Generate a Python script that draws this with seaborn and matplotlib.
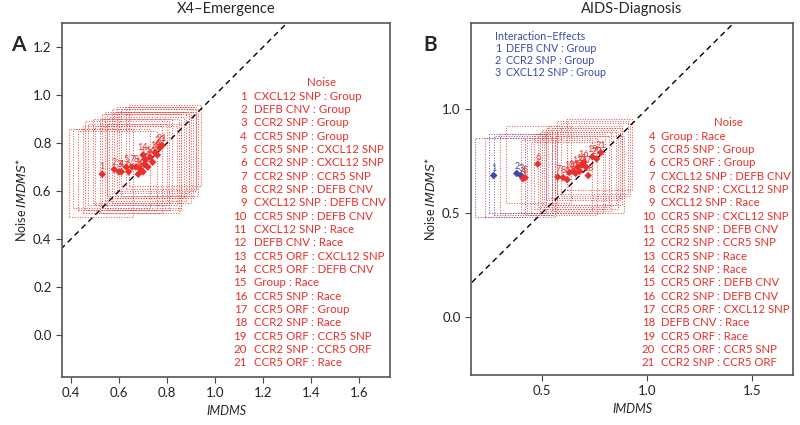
import numpy as np
import pandas as pd
import matplotlib
matplotlib.use("Agg")
import matplotlib.pyplot as plt
from matplotlib.patches import Rectangle
import seaborn as sns

# ---- data: X4-Emergence (panel A) ----
x4_terms = ["CXCL12 SNP : Group", "DEFB CNV : Group", "CCR2 SNP : Group", "CCR5 SNP : Group",
            "CCR5 SNP : CXCL12 SNP", "CCR2 SNP : CXCL12 SNP", "CCR2 SNP : CCR5 SNP",
            "CCR2 SNP : DEFB CNV", "CXCL12 SNP : DEFB CNV", "CCR5 SNP : DEFB CNV",
            "CXCL12 SNP : Race", "DEFB CNV : Race", "CCR5 ORF : CXCL12 SNP", "CCR5 ORF : DEFB CNV",
            "Group : Race", "CCR5 SNP : Race", "CCR5 ORF : Group", "CCR2 SNP : Race",
            "CCR5 ORF : CCR5 SNP", "CCR2 SNP : CCR5 ORF", "CCR5 ORF : Race"]
x4_imdms = [0.53, 0.58, 0.60, 0.61, 0.63, 0.64, 0.655, 0.67, 0.68, 0.69, 0.70,
            0.705, 0.71, 0.70, 0.72, 0.73, 0.74, 0.75, 0.76, 0.77, 0.78]
x4_noise = [0.67, 0.69, 0.68, 0.68, 0.70, 0.68, 0.70, 0.70, 0.67, 0.69, 0.68,
            0.71, 0.73, 0.75, 0.70, 0.74, 0.72, 0.76, 0.75, 0.78, 0.79]
x4_xlo = [0.39, 0.41, 0.43, 0.45, 0.47, 0.46, 0.49, 0.50, 0.52, 0.53, 0.55,
          0.54, 0.56, 0.55, 0.57, 0.58, 0.59, 0.60, 0.61, 0.63, 0.64]
x4_xhi = [0.66, 0.73, 0.76, 0.78, 0.80, 0.81, 0.82, 0.84, 0.85, 0.86, 0.86,
          0.88, 0.87, 0.89, 0.90, 0.89, 0.91, 0.92, 0.93, 0.92, 0.94]
x4_ylo = [0.49, 0.53, 0.52, 0.51, 0.54, 0.52, 0.55, 0.54, 0.51, 0.53, 0.52,
          0.56, 0.57, 0.58, 0.55, 0.59, 0.57, 0.60, 0.58, 0.61, 0.62]
x4_yhi = [0.86, 0.86, 0.85, 0.87, 0.88, 0.89, 0.90, 0.87, 0.90, 0.92, 0.88,
          0.93, 0.91, 0.92, 0.94, 0.93, 0.95, 0.93, 0.94, 0.95, 0.96]

# ---- data: AIDS-Diagnosis (panel B) ----
aids_effects = ["DEFB CNV : Group", "CCR2 SNP : Group", "CXCL12 SNP : Group"]
aids_noise_terms = ["Group : Race", "CCR5 SNP : Group", "CCR5 ORF : Group", "CXCL12 SNP : DEFB CNV",
                    "CCR2 SNP : CXCL12 SNP", "CXCL12 SNP : Race", "CCR5 SNP : CXCL12 SNP",
                    "CCR5 SNP : DEFB CNV", "CCR2 SNP : CCR5 SNP", "CCR5 SNP : Race", "CCR2 SNP : Race",
                    "CCR5 ORF : DEFB CNV", "CCR2 SNP : DEFB CNV", "CCR5 ORF : CXCL12 SNP",
                    "DEFB CNV : Race", "CCR5 ORF : Race", "CCR5 ORF : CCR5 SNP", "CCR2 SNP : CCR5 ORF"]
aids_imdms = [0.27, 0.38, 0.40, 0.41, 0.42, 0.48, 0.575, 0.60, 0.62, 0.63, 0.65, 0.66,
              0.67, 0.68, 0.69, 0.70, 0.71, 0.72, 0.74, 0.76, 0.78]
aids_noise = [0.68, 0.69, 0.68, 0.665, 0.67, 0.735, 0.673, 0.67, 0.66, 0.695, 0.70, 0.69,
              0.72, 0.70, 0.73, 0.745, 0.72, 0.68, 0.77, 0.76, 0.79]
aids_xlo = [0.18, 0.25, 0.27, 0.23, 0.30, 0.33, 0.40, 0.43, 0.45, 0.46, 0.48, 0.49,
            0.50, 0.51, 0.52, 0.53, 0.55, 0.56, 0.57, 0.59, 0.62]
aids_xhi = [0.42, 0.52, 0.55, 0.56, 0.57, 0.64, 0.74, 0.76, 0.79, 0.80, 0.82, 0.83,
            0.85, 0.86, 0.87, 0.88, 0.88, 0.89, 0.91, 0.92, 0.93]
aids_ylo = [0.48, 0.50, 0.49, 0.48, 0.50, 0.55, 0.50, 0.49, 0.50, 0.52, 0.53, 0.51,
            0.54, 0.52, 0.56, 0.57, 0.54, 0.50, 0.59, 0.58, 0.61]
aids_yhi = [0.86, 0.88, 0.87, 0.86, 0.88, 0.92, 0.85, 0.86, 0.84, 0.88, 0.87, 0.89,
            0.90, 0.89, 0.91, 0.92, 0.91, 0.87, 0.94, 0.93, 0.95]

RED = "#e8302c"
BLUE = "#3a4aa6"

sns.set_style("ticks")
plt.rcParams["font.family"] = ["Lato", "DejaVu Sans"]

fig = plt.figure(figsize=(8, 4.25), dpi=100)
W, H = 800, 425


def px_axes(x0, y0, x1, y1):
    return fig.add_axes([x0 / W, 1 - y1 / H, (x1 - x0) / W, (y1 - y0) / H])


def ftext(x, y, s, **kw):
    fig.text(x / W, 1 - y / H, s, **kw)


def draw_panel(ax, df, xlim, ylim, xticks, yticks, title):
    for _, r in df.iterrows():
        ax.add_patch(Rectangle((r.xlo, r.ylo), r.xhi - r.xlo, r.yhi - r.ylo, fill=False,
                               ls=(0, (1, 1.5)), lw=0.75, ec=r.color, alpha=0.8))
    lims = np.array([-1, 3])
    ax.plot(lims, lims, ls=(0, (4, 3)), color="black", lw=1.0)
    sns.scatterplot(data=df, x="imdms", y="noise", hue="kind",
                    palette={"noise": RED, "effect": BLUE}, marker="D", s=15,
                    edgecolor="none", ax=ax, legend=False, zorder=4)
    for _, r in df.iterrows():
        ax.text(r.imdms, r.noise + 0.012, str(r.num), color=r.color, fontsize=6.5,
                ha="center", va="bottom", zorder=5)
    ax.set_xlim(*xlim)
    ax.set_ylim(*ylim)
    ax.set_xticks(xticks)
    ax.set_yticks(yticks)
    ax.tick_params(labelsize=9.5, length=4, color="#444444", labelcolor="#222222")
    for sp in ax.spines.values():
        sp.set_visible(True)
        sp.set_color("#555555")
        sp.set_linewidth(1.2)
    ax.set_xlabel("IMDMS", fontstyle="italic", fontsize=9)
    ax.set_ylabel("Noise $\\mathit{IMDMS}$*", fontsize=9)
    ax.set_title(title, fontsize=10.5, pad=7)


# panel A
df_a = pd.DataFrame({"imdms": x4_imdms, "noise": x4_noise, "xlo": x4_xlo, "xhi": x4_xhi,
                     "ylo": x4_ylo, "yhi": x4_yhi})
df_a["num"] = np.arange(1, len(df_a) + 1)
df_a["kind"] = "noise"
df_a["color"] = RED
ax1 = px_axes(62, 23, 390, 377)
draw_panel(ax1, df_a, (0.3625, 1.729), (-0.175, 1.30),
           [0.4, 0.6, 0.8, 1.0, 1.2, 1.4, 1.6], [0.0, 0.2, 0.4, 0.6, 0.8, 1.0, 1.2],
           "X4\u2013Emergence")

ftext(322, 83, "Noise", color=RED, fontsize=8.3, ha="center", va="center")
for i, term in enumerate(x4_terms):
    y = 96 + 13.35 * i
    ftext(247, y, str(i + 1), color=RED, fontsize=8.3, ha="right", va="center")
    ftext(254, y, term, color=RED, fontsize=8.3, ha="left", va="center")

# panel B
n_eff = len(aids_effects)
df_b = pd.DataFrame({"imdms": aids_imdms, "noise": aids_noise, "xlo": aids_xlo, "xhi": aids_xhi,
                     "ylo": aids_ylo, "yhi": aids_yhi})
df_b["num"] = np.arange(1, len(df_b) + 1)
df_b["kind"] = ["effect"] * n_eff + ["noise"] * (len(df_b) - n_eff)
df_b["color"] = [BLUE] * n_eff + [RED] * (len(df_b) - n_eff)
ax2 = px_axes(471, 23, 793, 375)
draw_panel(ax2, df_b, (0.162, 1.695), (-0.279, 1.413),
           [0.5, 1.0, 1.5], [0.0, 0.5, 1.0], "AIDS-Diagnosis")

ftext(495, 37, "Interaction\u2013Effects", color=BLUE, fontsize=7.7, ha="left", va="center")
for i, term in enumerate(aids_effects):
    y = 49 + 12 * i
    ftext(501, y, str(i + 1), color=BLUE, fontsize=7.7, ha="right", va="center")
    ftext(506, y, term, color=BLUE, fontsize=7.7, ha="left", va="center")

ftext(728, 122, "Noise", color=RED, fontsize=8.2, ha="center", va="center")
for i, term in enumerate(aids_noise_terms):
    y = 136 + 13.35 * i
    ftext(655, y, str(i + 1 + n_eff), color=RED, fontsize=8.2, ha="right", va="center")
    ftext(661, y, term, color=RED, fontsize=8.2, ha="left", va="center")

ftext(18, 45, "A", fontsize=15, fontweight="bold", ha="center", va="center")
ftext(430, 45, "B", fontsize=15, fontweight="bold", ha="center", va="center")

fig.savefig("out.png", dpi=100)
